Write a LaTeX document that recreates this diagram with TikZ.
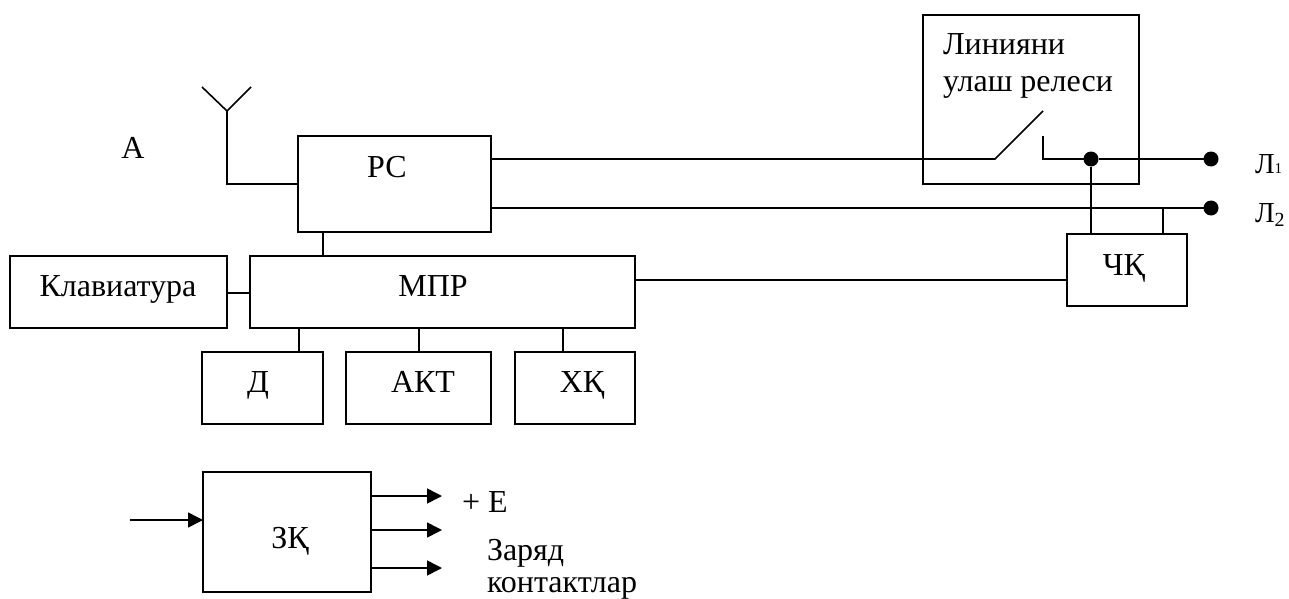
\documentclass[tikz,border=0pt]{standalone}
\usepackage{fontspec}
\setmainfont{Liberation Serif}
\usetikzlibrary{positioning, arrows.meta}

\begin{document}
\begin{tikzpicture}[
  x=1pt, y=-1pt,
  node distance=24pt,
  every node/.style={font=\fontsize{32}{36}\selectfont, inner sep=0pt, outer sep=0pt},
  box/.style={draw, line width=1.6pt, minimum width=#1},
  wire/.style={line width=1.6pt},
  arr/.style={wire, -{Triangle[length=15pt, width=15pt]}},
  dot/.style={circle, fill, minimum size=15pt},
  mark text/.style={anchor=base},
  left text/.style={anchor=base west},
  line text/.style={anchor=base west, font=\fontsize{29}{32}\selectfont}
]
  \useasboundingbox (0,0) rectangle (1289,599);

  \node[box=193pt, minimum height=96pt] (rs) at (394.5,184) {};
  \node[box=385pt, minimum height=72pt, below=24pt of rs, xshift=48pt] (mpr) {};
  \node[box=217pt, minimum height=72pt, left=23pt of mpr] (keys) {};
  \node[box=121pt, minimum height=72pt, below=24pt of mpr.south west, anchor=north west, xshift=-48pt] (d) {};
  \node[box=145pt, minimum height=72pt, right=23pt of d] (akt) {};
  \node[box=120pt, minimum height=72pt, right=24pt of akt] (xq) {};
  \node[box=216pt, minimum height=169pt] (relay) at (1031,99.5) {};
  \node[box=120pt, minimum height=72pt] (cq) at (1127,270) {};
  \node[box=168pt, minimum height=120pt] (zq) at (287,532) {};

  % labels
  \node[mark text] (atext) at (133,158) {А};
  \node[mark text] (rstext) at (387,177) {РС};
  \node[mark text] (mprtext) at (433,296) {МПР};
  \node[mark text] (keystext) at (118,296) {Клавиатура};
  \node[mark text] (dtext) at (258,392) {Д};
  \node[mark text] (akttext) at (423,392) {АКТ};
  \node[mark text] (xqtext) at (582,392) {ХҚ};
  \node[mark text] (cqtext) at (1124,275) {ЧҚ};
  \node[mark text] (zqtext) at (290,548) {ЗҚ};
  \node[left text] (relay1) at (943,55) {Линияни};
  \node[below=37pt of relay1.base west, left text] (relay2) {улаш релеси};
  \node[line text] (l1text) at (1255,173) {Л{\fontsize{15}{15}\selectfont 1}};
  \node[line text] (l2text) at (1255,222) {Л\raisebox{-4pt}{\fontsize{20}{20}\selectfont 2}};
  \node[left text] (etext) at (462,512) {+ Е};
  \node[left text] (charge1) at (487,560) {Заряд};
  \node[left text] (charge2) at (487,592) {контактлар};

  % points on the wires
  \coordinate (ant) at (227,111);
  \coordinate (antl) at (202,87);
  \coordinate (antr) at (251,87);
  \coordinate (sw1) at (995,159);
  \coordinate (sw2) at (1043,111);
  \coordinate (sw3) at (1043,136);
  \node[dot] (j1) at (1091,159) {};
  \node[dot] (l1) at (1211,159) {};
  \node[dot] (l2) at (1211,208) {};
  \coordinate (cqtap) at (1163,208);
  \coordinate (dtap) at (299,328);
  \coordinate (akttap) at (419,328);
  \coordinate (xqtap) at (563,328);
  \coordinate (in) at (130,520);
  \coordinate (out1) at (442,496);
  \coordinate (out2) at (442,530);
  \coordinate (out3) at (442,568);

  \draw[wire] (antl) -- (ant) -- (antr);
  \draw[wire] (ant) |- (rs.west);
  \draw[wire] (rs.east |- sw1) -- (sw1) -- (sw2);
  \draw[wire] (sw3) |- (j1) -- (l1);
  \draw[wire] (rs.east |- l2) -- (l2);
  \draw[wire] (j1) -- (j1 |- cq.north);
  \draw[wire] (cqtap) -- (cqtap |- cq.north);
  \draw[wire] (rs.south -| d.east) -- (d.east |- mpr.north);
  \draw[wire] (keys.east |- 0,293) -- (mpr.west |- 0,293);
  \draw[wire] (mpr.east |- 0,280) -- (cq.west |- 0,280);
  \draw[wire] (dtap) -- (dtap |- d.north);
  \draw[wire] (akttap) -- (akttap |- akt.north);
  \draw[wire] (xqtap) -- (xqtap |- xq.north);
  \draw[arr] (in) -- (zq.west |- in);
  \draw[arr] (zq.east |- out1) -- (out1);
  \draw[arr] (zq.east |- out2) -- (out2);
  \draw[arr] (zq.east |- out3) -- (out3);
\end{tikzpicture}
\end{document}
